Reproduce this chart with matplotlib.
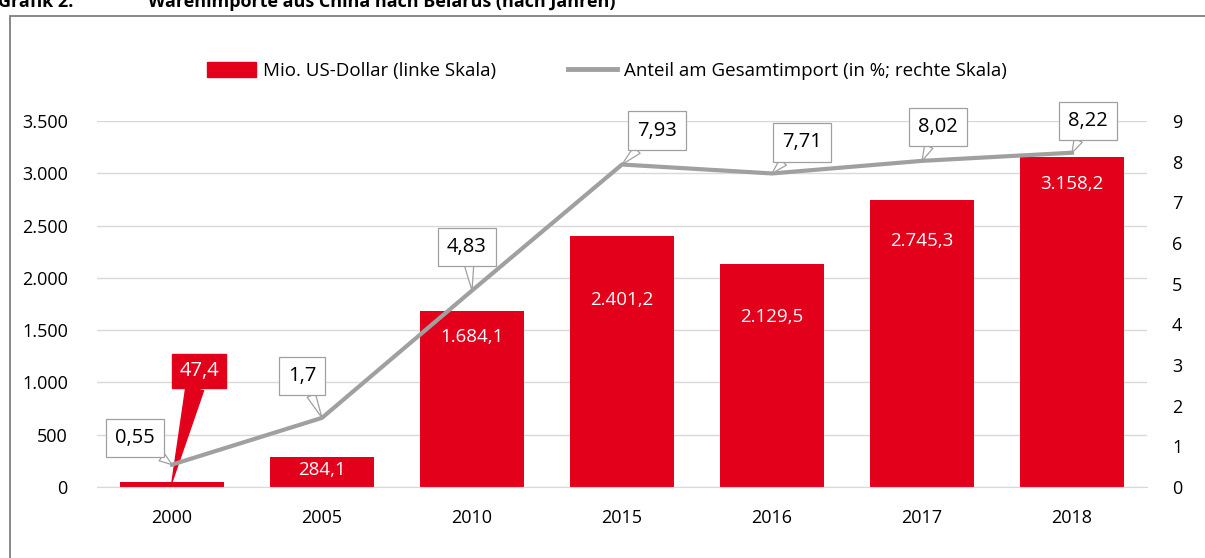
import matplotlib
matplotlib.use("Agg")
import matplotlib.pyplot as plt
from matplotlib.patches import Rectangle, Patch
from matplotlib.lines import Line2D

plt.rcParams['font.family'] = ['Open Sans', 'DejaVu Sans']

years = ["2000", "2005", "2010", "2015", "2016", "2017", "2018"]
usd_mio = [47.4, 284.1, 1684.1, 2401.2, 2129.5, 2745.3, 3158.2]
usd_labels = ["47,4", "284,1", "1.684,1", "2.401,2", "2.129,5", "2.745,3", "3.158,2"]
share_pct = [0.55, 1.7, 4.83, 7.93, 7.71, 8.02, 8.22]
share_labels = ["0,55", "1,7", "4,83", "7,93", "7,71", "8,02", "8,22"]
left_ticks = [0, 500, 1000, 1500, 2000, 2500, 3000, 3500]
left_ticklabels = ["0", "500", "1.000", "1.500", "2.000", "2.500", "3.000", "3.500"]
right_ticks = list(range(0, 10))

# layout (label placement, not data)
bar_label_y = [None, 160, 1434, 1788, 1626, 2352, 2898]
share_offsets = [(-37, 27), (-20, 42), (-5, 44), (35, 34), (30, 31), (16, 34), (16, 32)]

RED = "#E2001A"
GRAY = "#A0A0A0"
W, H = 1205, 558
fig = plt.figure(figsize=(W / 100, H / 100), dpi=100)

# frame
fig.patches.append(Rectangle((10 / W, -0.1), 1.2, 1 - 16 / H + 0.1, transform=fig.transFigure,
                             fill=False, edgecolor="#7f7f7f", lw=1.3))
fig.text(-2 / W, 1 - 7 / H, "Grafik 2:", fontsize=13, fontweight="bold", va="baseline", ha="left")
fig.text(148 / W, 1 - 7 / H, "Warenimporte aus China nach Belarus (nach Jahren)", fontsize=13,
         fontweight="bold", va="baseline", ha="left")

ax = fig.add_axes([97 / W, (H - 487) / H, 1050 / W, 366 / H])
x = list(range(len(years)))
ax.bar(x, usd_mio, width=0.69, color=RED, zorder=2)
ax.set_xlim(-0.5, len(years) - 0.5)
ax.set_ylim(0, 3500)
ax.set_yticks(left_ticks)
ax.set_yticklabels(left_ticklabels)
ax.set_xticks(x)
ax.set_xticklabels(years)
ax.tick_params(axis="both", length=0, labelsize=13)
ax.tick_params(axis="y", pad=21)
ax.tick_params(axis="x", pad=16)
ax.grid(axis="y", color="#d9d9d9", lw=1, zorder=0)
for s in ["top", "right", "left"]:
    ax.spines[s].set_visible(False)
ax.spines["bottom"].set_color("#d9d9d9")

for i, (lab, ly) in enumerate(zip(usd_labels, bar_label_y)):
    if ly is None:
        continue
    ax.text(i, ly, lab, color="white", fontsize=13.5, ha="center", va="center", zorder=3)

# red callout for 2000
ax.annotate(usd_labels[0], xy=(0, usd_mio[0]), xytext=(27, 111), textcoords="offset pixels",
            fontsize=14.5, color="white", ha="center", va="center", zorder=6,
            bbox=dict(boxstyle="square,pad=0.35", fc=RED, ec=RED),
            arrowprops=dict(arrowstyle="wedge,tail_width=0.9,shrink_factor=0.5", fc=RED, ec=RED,
                            shrinkA=0, shrinkB=0))

ax2 = ax.twinx()
ax2.set_ylim(0, 9)
ax2.set_yticks(right_ticks)
ax2.tick_params(axis="y", length=0, labelsize=13, pad=18)
for s in ["top", "right", "left", "bottom"]:
    ax2.spines[s].set_visible(False)
ax2.plot(x, share_pct, color=GRAY, lw=3, zorder=3, solid_joinstyle="miter")

for i, (v, lab, off) in enumerate(zip(share_pct, share_labels, share_offsets)):
    ax2.annotate(lab, xy=(i, v), xytext=off, textcoords="offset pixels",
                 fontsize=14.5, color="black", ha="center", va="center", zorder=5,
                 bbox=dict(boxstyle="square,pad=0.45", fc="white", ec=GRAY, lw=0.9),
                 arrowprops=dict(arrowstyle="wedge,tail_width=0.45,shrink_factor=0.5", fc="white",
                                 ec=GRAY, lw=0.9, shrinkA=0, shrinkB=0))

handles = [Patch(facecolor=RED, edgecolor=RED), Line2D([0], [0], color=GRAY, lw=3.5)]
fig.legend(handles, ["Mio. US-Dollar (linke Skala)", "Anteil am Gesamtimport (in %; rechte Skala)"],
           loc="center", bbox_to_anchor=(607 / W, 1 - 71 / H), ncol=2, frameon=False,
           fontsize=13.5, handlelength=2.6, handleheight=0.8, handletextpad=0.4, columnspacing=3.8)

fig.savefig("out.png", dpi=100)
